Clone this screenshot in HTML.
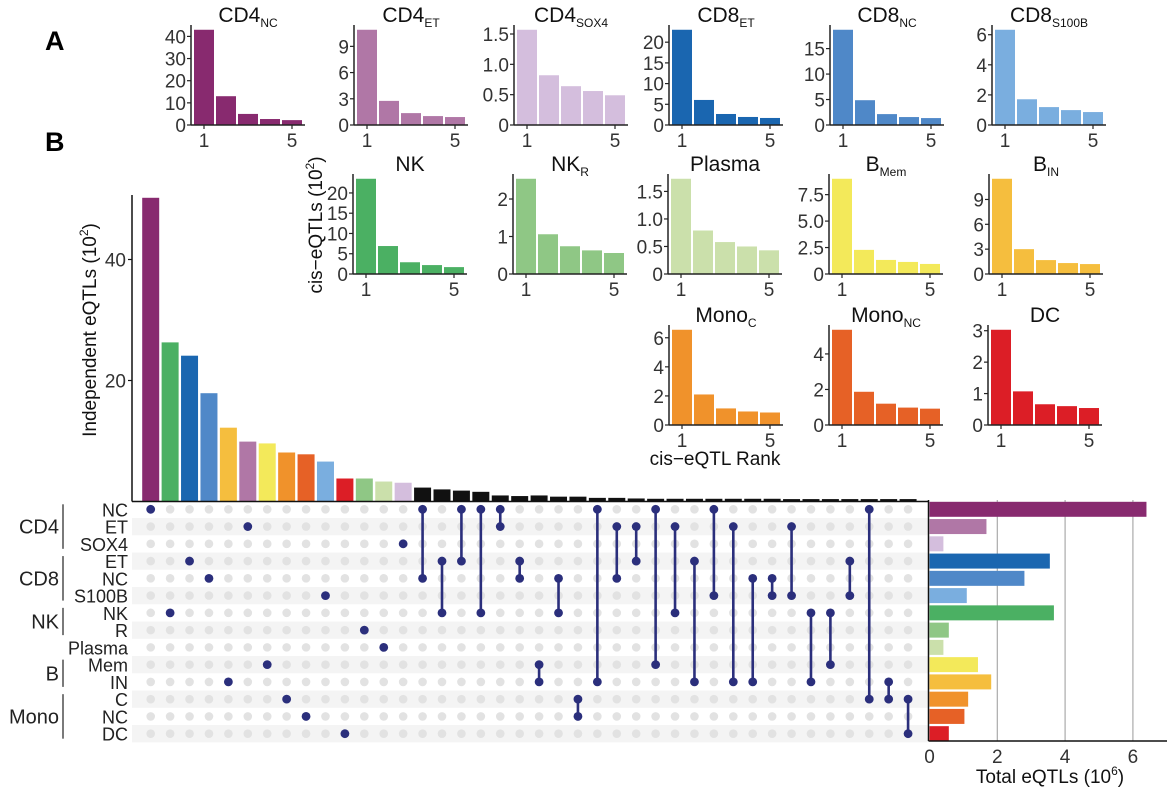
<!DOCTYPE html>
<html><head><meta charset="utf-8"><style>
body{margin:0;background:#fff;}
svg{display:block;font-family:"Liberation Sans",sans-serif;}
</style></head><body>
<svg id="fig" width="1171" height="793" viewBox="0 0 1171 793">
<text x="45" y="50" font-size="27" font-weight="bold">A</text>
<text x="45" y="151" font-size="27" font-weight="bold">B</text>
<text transform="translate(322,225) rotate(-90)" font-size="19" text-anchor="middle" fill="#111">cis−eQTLs (10<tspan font-size="12" dy="-8">2</tspan><tspan dy="8">)</tspan></text>
<text x="715" y="465" font-size="19" text-anchor="middle" fill="#111">cis−eQTL Rank</text>
<text transform="translate(96,330) rotate(-90)" font-size="19" text-anchor="middle" fill="#111">Independent eQTLs (10<tspan font-size="12" dy="-8">2</tspan><tspan dy="8">)</tspan></text>
<text x="1050" y="783" font-size="19" text-anchor="middle" fill="#111">Total eQTLs (10<tspan font-size="12" dy="-8">6</tspan><tspan dy="8">)</tspan></text>
</svg>
<script>
// ---- Panel A data ----
const panelMain = ["CD4","CD4","CD4","CD8","CD8","CD8","NK","NK","Plasma","B","B","Mono","Mono","DC"];
const panelSub = ["NC","ET","SOX4","ET","NC","S100B","","R","","Mem","IN","C","NC",""];
const rank1 = [43,10.9,1.57,23.0,18.7,6.33,23.5,2.54,1.73,9.0,11.5,6.55,5.36,3.03];
const rank2 = [13,2.76,0.82,6.05,4.87,1.71,6.9,1.06,0.79,2.28,3.0,2.1,1.87,1.07];
const rank3 = [5,1.36,0.64,2.66,2.14,1.19,2.9,0.74,0.58,1.33,1.68,1.14,1.2,0.66];
const rank4 = [2.7,1.02,0.56,1.94,1.56,0.99,2.2,0.63,0.5,1.14,1.32,0.93,0.98,0.6];
const rank5 = [2.2,0.91,0.49,1.7,1.36,0.86,1.7,0.56,0.43,0.95,1.2,0.86,0.92,0.54];
const panelTicks = [["0","10","20","30","40"],["0","3","6","9"],["0","0.5","1.0","1.5"],["0","5","10","15","20"],["0","5","10","15"],["0","2","4","6"],["0","5","10","15","20"],["0","1","2"],["0","0.5","1.0","1.5"],["0","2.5","5.0","7.5"],["0","3","6","9"],["0","2","4","6"],["0","2","4"],["0","1","2","3"]];
const rankTicks = [1,5];
// ---- Panel B data ----
const setCols = [[0],[6],[3],[4],[10],[1],[9],[11],[12],[5],[13],[7],[8],[2],[0,4],[3,6],[0,3],[0,6],[0,1],[3,4],[9,10],[4,6],[11,12],[0,10],[1,4],[1,3],[0,9],[1,6],[3,10],[0,5],[1,10],[4,10],[4,5],[1,5],[6,10],[6,9],[3,5],[0,11],[10,11],[11,13]];
const setSizes = [50.2,26.3,24.1,17.9,12.2,9.9,9.6,8.1,7.8,6.6,3.8,3.8,3.3,3.1,2.3,2.0,1.8,1.6,1.0,0.9,1.0,0.8,0.8,0.6,0.6,0.5,0.45,0.45,0.45,0.45,0.45,0.45,0.45,0.4,0.4,0.4,0.4,0.4,0.4,0.4];
const sizeTicks = [20,40];
const rowLabels = ["NC","ET","SOX4","ET","NC","S100B","NK","R","Plasma","Mem","IN","C","NC","DC"];
const groupLabels = ["CD4","CD8","NK","B","Mono"];
const groupRows = [[0,2],[3,5],[6,7],[9,10],[11,13]];
const totals = [6.4,1.68,0.41,3.55,2.8,1.1,3.67,0.57,0.41,1.43,1.82,1.14,1.03,0.57];
const totalTicks = [0,2,4,6];
const cellColors = ["#882a6f","#b077a6","#d4bedd","#1a66b0","#4f88c8","#7aaedf","#4bb063","#8fc785","#cbe0ab","#f3e95a","#f5be3e","#f0922b","#e66126","#dc1e26"];

const NS="http://www.w3.org/2000/svg";
const svg=document.getElementById('fig');
function mk(tag,attrs,parent){const e=document.createElementNS(NS,tag);for(const k in attrs)e.setAttribute(k,attrs[k]);(parent||svg).appendChild(e);return e;}

// Panel A layout
const axX=[191,354,514,669,830,992,353,513,668,829,989,669,829,988];
const baseY=[125,125,125,125,125,125,274,274,274,274,274,425,425,425];
for(let p=0;p<14;p++){
  const g=mk('g',{});
  
  
  const vals=[rank1[p],rank2[p],rank3[p],rank4[p],rank5[p]];
  const dmax=Math.max(...vals)*1.05;
  const x0=axX[p], b=baseY[p];
  const ys=v=>b-v/dmax*100;
  const xs=r=>x0+13+(r-1)*22;
  vals.forEach((v,i)=>{
    const r=mk('rect',{x:xs(i+1)-10,y:ys(v),width:20,height:b-ys(v),fill:cellColors[p]},g);
    
    
  });
  mk('line',{x1:x0,y1:b-100,x2:x0,y2:b,stroke:'#222','stroke-width':1.5},g);
  mk('line',{x1:x0,y1:b,x2:x0+114,y2:b,stroke:'#222','stroke-width':1.5},g);
  panelTicks[p].forEach(t=>{
    const y=ys(parseFloat(t));
    mk('line',{x1:x0-4,y1:y,x2:x0,y2:y,stroke:'#222','stroke-width':1.2},g);
    const tx=mk('text',{x:x0-5,y:y+7,'font-size':19,'text-anchor':'end',fill:'#333'},g);
    tx.textContent=t;
    
    
  });
  rankTicks.forEach(r=>{
    mk('line',{x1:xs(r),y1:b,x2:xs(r),y2:b+4,stroke:'#222','stroke-width':1.2},g);
    const tx=mk('text',{x:xs(r),y:b+22,'font-size':19,'text-anchor':'middle',fill:'#333'},g);
    tx.textContent=r;
    
    
  });
  const tt=mk('text',{x:x0+57,y:b-103,'font-size':21,'text-anchor':'middle',fill:'#111'},g);
  
  
  const s1=mk('tspan',{},tt);s1.textContent=panelMain[p];
  if(panelSub[p]){const s2=mk('tspan',{'font-size':12,dy:5},tt);s2.textContent=panelSub[p];}
}

// Panel B: upset
const colX=i=>150.7+i*19.42;
const rowY=r=>509.3+r*17.26;
const sBase=501.5, sScale=6.05;
const sy=v=>sBase-v*sScale;
for(let r=1;r<14;r+=2){const s=mk('rect',{x:132,y:rowY(r)-8.6,width:796,height:17.26,fill:'#f4f4f4'});
 
 }
setCols.forEach((c,i)=>{
  const col=c.length===1?cellColors[c[0]]:'#111';
  const r=mk('rect',{x:colX(i)-8.5,y:sy(setSizes[i]),width:17,height:sBase-sy(setSizes[i]),fill:col});
  
  
});
mk('line',{x1:132,y1:195,x2:132,y2:sBase,stroke:'#111','stroke-width':1.5});
mk('line',{x1:132,y1:sBase,x2:928,y2:sBase,stroke:'#111','stroke-width':1.5});
sizeTicks.forEach(t=>{
  mk('line',{x1:128,y1:sy(t),x2:132,y2:sy(t),stroke:'#111','stroke-width':1.2});
  const tx=mk('text',{x:126,y:sy(t)+7,'font-size':19,'text-anchor':'end',fill:'#333'});
  tx.textContent=t;
  
  
});
setCols.forEach((c,i)=>{
  for(let r=0;r<14;r++){
    if(c.indexOf(r)<0){const d=mk('circle',{cx:colX(i),cy:rowY(r),r:4.3,fill:'#e2e2e2'});
      
      }
  }
  if(c.length>1){const l=mk('line',{x1:colX(i),y1:rowY(Math.min(...c)),x2:colX(i),y2:rowY(Math.max(...c)),stroke:'#2b2f7c','stroke-width':2.6});
    
    }
  c.forEach(r=>{const d=mk('circle',{cx:colX(i),cy:rowY(r),r:4.4,fill:'#2b2f7c'});
    
    });
});
rowLabels.forEach((t,r)=>{
  const tx=mk('text',{x:128,y:rowY(r)+7,'font-size':18,'text-anchor':'end',fill:'#222'});
  tx.textContent=t;
  
  
});
groupLabels.forEach((t,k)=>{
  const [a,b]=groupRows[k];
  const y1=rowY(a)-5,y2=rowY(b)+5;
  mk('line',{x1:63,y1:y1,x2:63,y2:y2,stroke:'#222','stroke-width':1.2});
  const tx=mk('text',{x:59,y:(y1+y2)/2+7,'font-size':20,'text-anchor':'end',fill:'#222'});
  tx.textContent=t;
  
  
});
const tx0=929.5, tScale=33.9;
const tx=v=>tx0+v*tScale;
totalTicks.slice(1).forEach(t=>mk('line',{x1:tx(t),y1:500,x2:tx(t),y2:741,stroke:'#aaa','stroke-width':1.2}));
totals.forEach((v,r)=>{
  const b=mk('rect',{x:tx0,y:rowY(r)-7.5,width:tx(v)-tx0,height:15,fill:cellColors[r]});
  
  
});
mk('line',{x1:928.5,y1:500,x2:928.5,y2:741,stroke:'#111','stroke-width':1.5});
mk('line',{x1:928.5,y1:741,x2:1167,y2:741,stroke:'#111','stroke-width':1.5});
totalTicks.forEach(t=>{
  const l=mk('text',{x:tx(t),y:763,'font-size':19,'text-anchor':'middle',fill:'#333'});
  l.textContent=t;
  
  
});
</script>
</body></html>
